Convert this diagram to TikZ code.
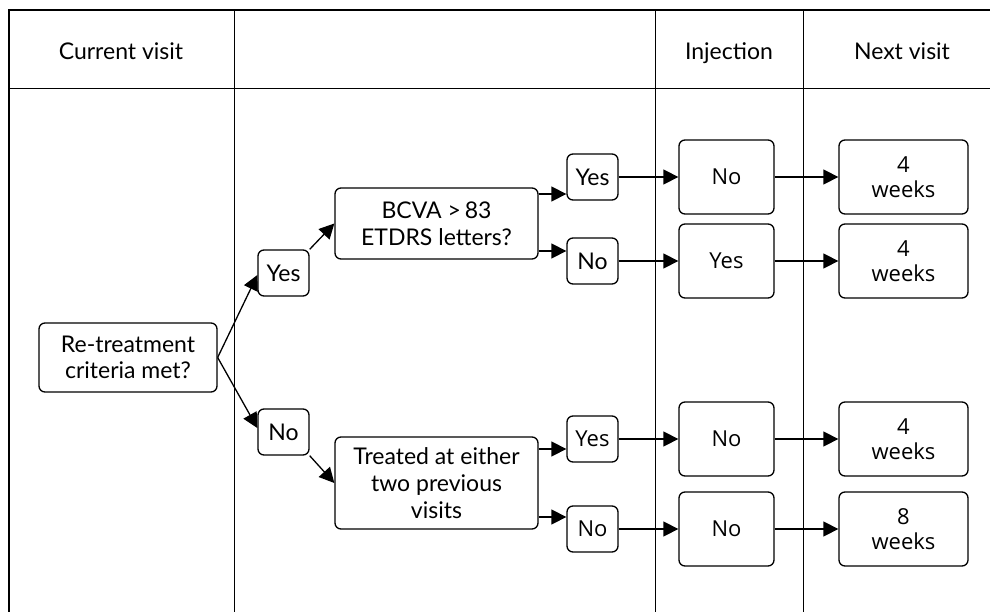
\documentclass[tikz,border=0pt]{standalone}
\usepackage{fontspec}
\setmainfont{Lato}
\newfontfamily\osans{Open Sans}
\usetikzlibrary{arrows.meta}
\begin{document}
\begin{tikzpicture}[x=1pt,y=-1pt,
  grid/.style={line width=1.5pt},
  mbox/.style={draw,line width=1.3pt,rounded corners=6pt,align=center,inner sep=0pt,
    font=\fontsize{23}{26.7}\selectfont},
  box/.style={mbox,text height=16.5pt,text depth=0pt},
  ombox/.style={mbox,font=\osans\fontsize{22}{25.5}\selectfont},
  obox/.style={ombox,text height=15.7pt,text depth=0pt},
  conn/.style={line width=1.3pt,-{Triangle[length=15pt,width=15pt]}},
  hdr/.style={anchor=base,font=\fontsize{23}{26.7}\selectfont}]
\useasboundingbox (0,0) rectangle (990,612);
% table
\draw[grid] (9,612) -- (9,10) -- (990,10);
\draw[grid] (9,88.5) -- (990,88.5);
\draw[grid] (234.5,10) -- (234.5,612);
\draw[grid] (655.5,10) -- (655.5,612);
\draw[grid] (803.5,10) -- (803.5,612);
\node[hdr] (h1) at (121,59.5) {Current visit};
\node[hdr] (h2) at (729,59.5) {Injection};
\node[hdr] (h3) at (902,59.5) {Next visit};
% nodes
\node[mbox,minimum width=178pt,minimum height=69pt] (rt) at (128,357.5) {Re-treatment\\criteria met?};
\node[box,minimum width=51pt,minimum height=46pt] (y1) at (283.5,273) {Yes};
\node[box,minimum width=51pt,minimum height=46pt] (n1) at (283.5,432) {No};
\node[mbox,minimum width=203pt,minimum height=71pt] (bc) at (436.5,223.5) {BCVA >\,83\\ETDRS letters?};
\node[mbox,minimum width=203pt,minimum height=92pt] (tr) at (436.5,483) {Treated at either\\two previous\\visits};
\node[box,minimum width=51pt,minimum height=46pt] (ya) at (592.5,177) {Yes};
\node[box,minimum width=51pt,minimum height=46pt] (na) at (592.5,261) {No};
\node[obox,minimum width=51pt,minimum height=46pt] (yb) at (592.5,439) {Yes};
\node[obox,minimum width=51pt,minimum height=46pt] (nb) at (592.5,529) {No};
\node[obox,minimum width=95pt,minimum height=74pt] (i1) at (726.5,177) {No};
\node[obox,minimum width=95pt,minimum height=74pt] (i2) at (726.5,261) {Yes};
\node[obox,minimum width=95pt,minimum height=74pt] (i3) at (726.5,439) {No};
\node[obox,minimum width=95pt,minimum height=74pt] (i4) at (726.5,529) {No};
\node[ombox,minimum width=129pt,minimum height=74pt] (v1) at (903.5,177) {4\\weeks};
\node[ombox,minimum width=129pt,minimum height=74pt] (v2) at (903.5,261) {4\\weeks};
\node[ombox,minimum width=129pt,minimum height=74pt] (v3) at (903.5,439) {4\\weeks};
\node[ombox,minimum width=129pt,minimum height=74pt] (v4) at (903.5,529) {8\\weeks};
% connectors
\draw[conn] (rt.east) -- ([yshift=-2pt]y1.west);
\draw[conn] (rt.east) -- ([yshift=4pt]n1.west);
\draw[conn] (y1.north east) -- (bc.west);
\draw[conn] (n1.south east) -- (tr.west);
\coordinate (b1) at ([yshift=29.5pt]bc.east);
\coordinate (b2) at ([yshift=-27.5pt]bc.east);
\coordinate (t1) at ([yshift=34pt]tr.east);
\coordinate (t2) at ([yshift=-34pt]tr.east);
\draw[conn] (b1) -- (b1 -| ya.west);
\draw[conn] (b2) -- (b2 -| na.west);
\draw[conn] (t1) -- (t1 -| yb.west);
\draw[conn] (t2) -- (t2 -| nb.west);
\draw[conn] (ya) -- (i1);
\draw[conn] (na) -- (i2);
\draw[conn] (yb) -- (i3);
\draw[conn] (nb) -- (i4);
\draw[conn] (i1) -- (v1);
\draw[conn] (i2) -- (v2);
\draw[conn] (i3) -- (v3);
\draw[conn] (i4) -- (v4);
\end{tikzpicture}
\end{document}
